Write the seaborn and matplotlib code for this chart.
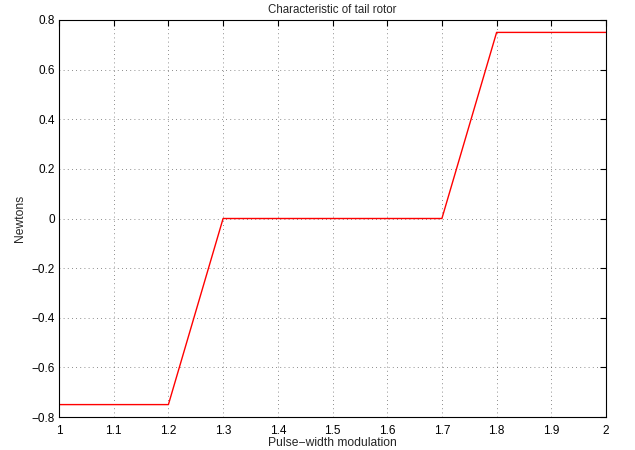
import matplotlib
matplotlib.use("Agg")
import matplotlib.pyplot as plt
import seaborn as sns
import pandas as pd

pwm = [1.0, 1.2, 1.3, 1.7, 1.8, 2.0]
force = [-0.75, -0.75, 0.0, 0.0, 0.75, 0.75]
xticks = [1, 1.1, 1.2, 1.3, 1.4, 1.5, 1.6, 1.7, 1.8, 1.9, 2]
xticklabels = ["1", "1.1", "1.2", "1.3", "1.4", "1.5", "1.6", "1.7", "1.8", "1.9", "2"]
yticks = [-0.8, -0.6, -0.4, -0.2, 0, 0.2, 0.4, 0.6, 0.8]
yticklabels = ["\u22120.8", "\u22120.6", "\u22120.4", "\u22120.2", "0", "0.2", "0.4", "0.6", "0.8"]

sns.set_style("white")
plt.rcParams['font.family'] = ['Liberation Sans', 'DejaVu Sans']

df = pd.DataFrame({"pwm": pwm, "force": force})
fig = plt.figure(figsize=(6.35, 4.5), dpi=100)
ax = fig.add_axes([59/635, 1 - 417/450, (606 - 59)/635, (417 - 20)/450])
sns.lineplot(data=df, x="pwm", y="force", ax=ax, color="red", linewidth=1.0, sort=False)

ax.set_xlim(1, 2)
ax.set_ylim(-0.8, 0.8)
ax.set_xticks(xticks)
ax.set_xticklabels(xticklabels)
ax.set_yticks(yticks)
ax.set_yticklabels(yticklabels)
ax.grid(True, linestyle=(0, (1, 4)), color="black", linewidth=0.6, alpha=0.6)
ax.tick_params(direction="in", length=4, width=0.8, top=True, right=True, labelsize=8.5, colors="black")
ax.tick_params(axis="x", pad=6)
ax.tick_params(axis="y", pad=3)
for s in ax.spines.values():
    s.set_visible(True)
    s.set_color("black")
    s.set_linewidth(0.8)
ax.set_xlabel("Pulse\u2212width modulation", fontsize=8.7, labelpad=0)
ax.set_ylabel("Newtons", fontsize=8.7, labelpad=4)
ax.set_title("Characteristic of tail rotor", fontsize=8.3, pad=5)
fig.savefig("out.png", dpi=100)
